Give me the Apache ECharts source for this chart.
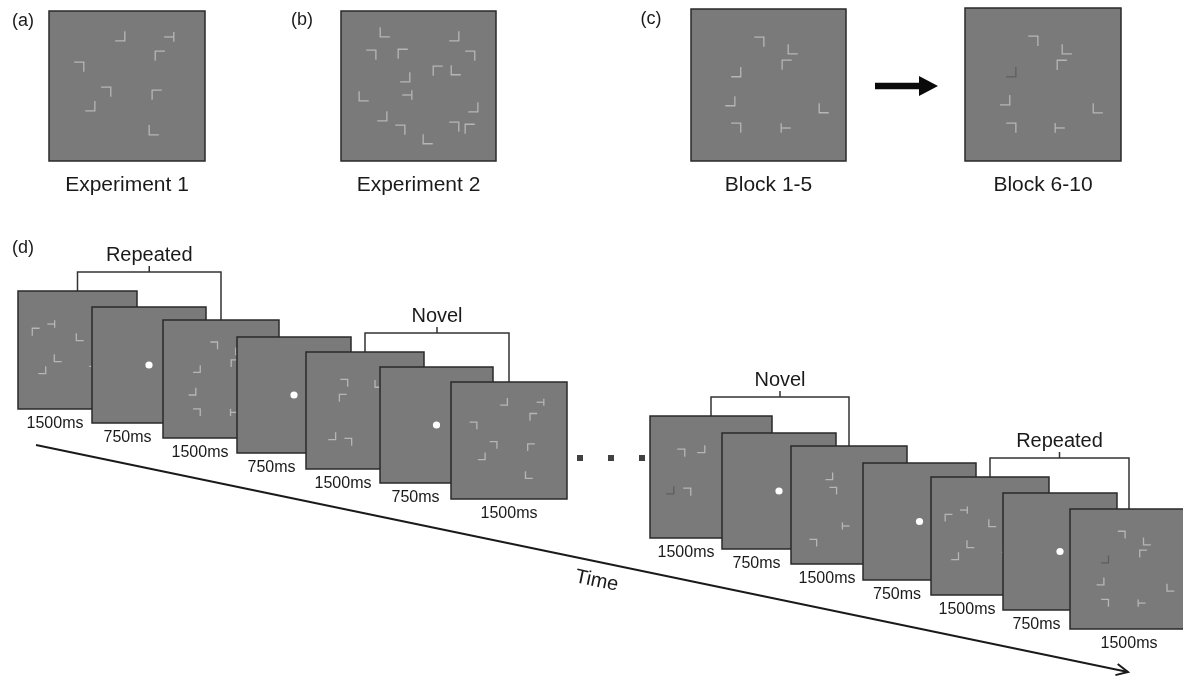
<!DOCTYPE html>
<html>
<head>
<meta charset="utf-8">
<script src="https://cdn.jsdelivr.net/npm/echarts/dist/echarts.min.js"></script>
<style>
  html, body { margin: 0; padding: 0; background: #ffffff; }
  #chart { width: 1183px; height: 680px; }
</style>
</head>
<body>
<div id="chart"></div>
<script>
// Page-sized frame used by both hidden axes (y grows downward)
const FRAME_W = 1183;
const FRAME_H = 680;

// Search-display layouts: [x fraction, y fraction, glyph, dimmed]
// glyphs: br ┘, tr ┐, tl ┌, bl └, tE ⊣ (T rotated, bar east), tW ⊢ (bar west)
const layoutExp1 = [
  [0.455, 0.167, 'br'], [0.769, 0.173, 'tE'], [0.712, 0.300, 'tl'], [0.192, 0.373, 'tr'],
  [0.365, 0.540, 'tr'], [0.263, 0.633, 'br'], [0.692, 0.560, 'tl'], [0.673, 0.793, 'bl']
];
const layoutExp2 = [
  [0.284, 0.140, 'bl'], [0.729, 0.167, 'br'], [0.194, 0.293, 'tr'], [0.400, 0.287, 'tl'],
  [0.832, 0.300, 'tr'], [0.626, 0.400, 'tl'], [0.742, 0.393, 'bl'], [0.413, 0.440, 'br'],
  [0.148, 0.567, 'bl'], [0.426, 0.560, 'tE'], [0.852, 0.640, 'br'], [0.265, 0.700, 'br'],
  [0.381, 0.793, 'tr'], [0.729, 0.773, 'tr'], [0.832, 0.787, 'tl'], [0.561, 0.853, 'bl']
];
const layoutBlock1to5 = [
  [0.439, 0.217, 'tr'], [0.658, 0.263, 'bl'], [0.619, 0.368, 'tl'], [0.290, 0.414, 'br'],
  [0.252, 0.605, 'br'], [0.858, 0.651, 'bl'], [0.290, 0.783, 'tr'], [0.613, 0.783, 'tW']
];
const layoutBlock6to10 = [
  [0.436, 0.216, 'tr'], [0.654, 0.268, 'bl'], [0.622, 0.373, 'tl'], [0.295, 0.418, 'br', 1],
  [0.256, 0.601, 'br'], [0.853, 0.654, 'bl'], [0.295, 0.784, 'tr'], [0.609, 0.784, 'tW']
];
const layoutSeqA = [
  [0.151, 0.347, 'tl'], [0.277, 0.280, 'tE'], [0.521, 0.390, 'bl'], [0.336, 0.568, 'bl'],
  [0.202, 0.669, 'br'], [0.630, 0.670, 'tr']
];
const layoutSeqE = [
  [0.322, 0.265, 'tr'], [0.616, 0.270, 'bl'], [0.314, 0.393, 'tl'], [0.220, 0.718, 'br'],
  [0.356, 0.769, 'tr']
];
const layoutSeqF = [
  [0.254, 0.303, 'tr'], [0.418, 0.270, 'br'], [0.164, 0.607, 'br', 1], [0.303, 0.623, 'tr']
];
const layoutSeqG = [
  [0.328, 0.254, 'br'], [0.362, 0.381, 'tr'], [0.474, 0.678, 'tW'], [0.190, 0.822, 'tr']
];
const LAYOUTS = {
  exp1: layoutExp1, exp2: layoutExp2, block1to5: layoutBlock1to5, block6to10: layoutBlock6to10,
  seqA: layoutSeqA, seqE: layoutSeqE, seqF: layoutSeqF, seqG: layoutSeqG, fixation: []
};

// Top row: example displays [left, top, width, height]
const exampleScreens = [[49, 11, 156, 150], [341, 11, 155, 150], [691, 9, 155, 152], [965, 8, 156, 153]];
const exampleLayouts = ['exp1', 'exp2', 'block1to5', 'block6to10'];
const exampleCaptions = ['Experiment 1', 'Experiment 2', 'Block 1-5', 'Block 6-10'];

// Panel (d): trial sequence [left, top, width, height]
const sequenceScreens = [
  [18, 291, 119, 118], [92, 307, 114, 116], [163, 320, 116, 118], [237, 337, 114, 116],
  [306, 352, 118, 117], [380, 367, 113, 116], [451, 382, 116, 117],
  [650, 416, 122, 122], [722, 433, 114, 116], [791, 446, 116, 118], [863, 463, 113, 117],
  [931, 477, 118, 118], [1003, 493, 114, 117], [1070, 509, 118, 120]
];
const sequenceLayouts = [
  'seqA', 'fixation', 'block1to5', 'fixation', 'seqE', 'fixation', 'exp1',
  'seqF', 'fixation', 'seqG', 'fixation', 'seqA', 'fixation', 'block6to10'
];
const sequenceGroups = [[0, 6], [7, 13]];
const stimulusMs = 1500;
const fixationMs = 750;

// Brackets over the sequence: [first screen, last screen]
const bracketSpans = [[0, 2], [4, 6], [7, 9], [11, 13]];
const bracketLabels = ['Repeated', 'Novel', 'Novel', 'Repeated'];

const panelTags = ['(a)', '(b)', '(c)', '(d)'];
const panelTagAnchors = [[23, 21], [302, 20], [651, 19], [23, 248]];

const timeAxisEnds = [[36, 445], [1128, 672]];
const timeLabel = 'Time';
const ellipsisDots = [[580, 458], [611, 458], [642, 458]];
const blockArrowEnds = [[875, 86], [938, 86]];

// ---- styles ----
const FONT = '"Liberation Sans", Arial, Helvetica, sans-serif';
const INK = '#1a1a1a';
const PANEL_FILL = '#7a7a7a';
const PANEL_EDGE = '#2a2a2a';
const GLYPH = '#b6b6b6';
const GLYPH_DIM = '#5e5e5e';

const allScreens = exampleScreens.concat(sequenceScreens);
const allLayouts = exampleLayouts.concat(sequenceLayouts);

function glyphPaths(type, cx, cy, hs) {
  switch (type) {
    case 'br': return [[[cx - hs, cy + hs], [cx + hs, cy + hs], [cx + hs, cy - hs]]];
    case 'tr': return [[[cx - hs, cy - hs], [cx + hs, cy - hs], [cx + hs, cy + hs]]];
    case 'tl': return [[[cx + hs, cy - hs], [cx - hs, cy - hs], [cx - hs, cy + hs]]];
    case 'bl': return [[[cx - hs, cy - hs], [cx - hs, cy + hs], [cx + hs, cy + hs]]];
    case 'tE': return [[[cx - hs, cy], [cx + hs, cy]], [[cx + hs, cy - hs], [cx + hs, cy + hs]]];
    case 'tW': return [[[cx - hs, cy - hs], [cx - hs, cy + hs]], [[cx - hs, cy], [cx + hs, cy]]];
  }
  return [];
}

function renderScreen(params, api) {
  const i = params.dataIndex;
  const l = api.value(0), t = api.value(1), w = api.value(2), h = api.value(3);
  const p0 = api.coord([l, t]);
  const p1 = api.coord([l + w, t + h]);
  const W = p1[0] - p0[0], H = p1[1] - p0[1];
  const children = [{
    type: 'rect',
    shape: { x: p0[0], y: p0[1], width: W, height: H },
    style: { fill: PANEL_FILL, stroke: PANEL_EDGE, lineWidth: 1.5 }
  }];
  const name = allLayouts[i];
  if (name === 'fixation') {
    children.push({
      type: 'circle',
      shape: { cx: p0[0] + W / 2, cy: p0[1] + H / 2, r: 3.6 },
      style: { fill: '#ffffff' }
    });
  }
  const hs = W * 0.031;
  LAYOUTS[name].forEach(function (g) {
    const cx = p0[0] + g[0] * W, cy = p0[1] + g[1] * H;
    glyphPaths(g[2], cx, cy, hs).forEach(function (pts) {
      children.push({
        type: 'polyline',
        shape: { points: pts },
        style: { stroke: g[3] ? GLYPH_DIM : GLYPH, lineWidth: 1.3, fill: null }
      });
    });
  });
  return { type: 'group', children: children };
}

// Bracket geometry from the screens it spans
const bracketData = bracketSpans.map(function (s) {
  const a = sequenceScreens[s[0]], b = sequenceScreens[s[1]];
  const xl = a[0] + a[2] / 2, xr = b[0] + b[2] / 2;
  return [xl, xr, a[1] - 19, a[1], b[1]];
});

function renderBracket(params, api) {
  const xl = api.value(0), xr = api.value(1), yl = api.value(2), ya = api.value(3), yb = api.value(4);
  const A = api.coord([xl, ya]), B = api.coord([xl, yl]), C = api.coord([xr, yl]), D = api.coord([xr, yb]);
  const mx = (B[0] + C[0]) / 2;
  const st = { stroke: '#333333', lineWidth: 1.5, fill: null };
  return {
    type: 'group',
    children: [
      { type: 'polyline', shape: { points: [A, B, C, D] }, style: st },
      { type: 'line', shape: { x1: mx, y1: B[1] - 6, x2: mx, y2: B[1] }, style: st }
    ]
  };
}

function renderTimeAxis(params, api) {
  const a = api.coord([api.value(0), api.value(1)]);
  const b = api.coord([api.value(2), api.value(3)]);
  const ang = Math.atan2(b[1] - a[1], b[0] - a[0]);
  const len = 13, spread = 0.45;
  const h1 = [b[0] - len * Math.cos(ang - spread), b[1] - len * Math.sin(ang - spread)];
  const h2 = [b[0] - len * Math.cos(ang + spread), b[1] - len * Math.sin(ang + spread)];
  const st = { stroke: INK, lineWidth: 2, fill: null };
  return {
    type: 'group',
    children: [
      { type: 'line', shape: { x1: a[0], y1: a[1], x2: b[0], y2: b[1] }, style: st },
      { type: 'polyline', shape: { points: [h1, b, h2] }, style: st }
    ]
  };
}

function renderBlockArrow(params, api) {
  const a = api.coord([api.value(0), api.value(1)]);
  const b = api.coord([api.value(2), api.value(3)]);
  const shaft = 3.2, head = 10, headLen = 19;
  const y = a[1], xs = b[0] - headLen;
  return {
    type: 'polygon',
    shape: { points: [[a[0], y - shaft], [xs, y - shaft], [xs, y - head], [b[0], y], [xs, y + head], [xs, y + shaft], [a[0], y + shaft]] },
    style: { fill: '#0a0a0a' }
  };
}

// Captions: positions, text, size, rotation
const captionPos = [], captionText = [], captionSize = [], captionRot = [];
function addCaption(pos, text, size, rot) {
  captionPos.push(pos); captionText.push(text); captionSize.push(size); captionRot.push(rot || 0);
}
panelTags.forEach(function (tag, i) { addCaption(panelTagAnchors[i], tag, 18); });
exampleScreens.forEach(function (s, i) {
  addCaption([s[0] + s[2] / 2, s[1] + s[3] + 24], exampleCaptions[i], 21);
});
sequenceGroups.forEach(function (g) {
  for (let i = g[0]; i <= g[1]; i++) {
    const s = sequenceScreens[i];
    const right = i < g[1] ? sequenceScreens[i + 1][0] : s[0] + s[2];
    const ms = sequenceLayouts[i] === 'fixation' ? fixationMs : stimulusMs;
    addCaption([(s[0] + right) / 2, s[1] + s[3] + 15], ms + 'ms', 16);
  }
});
bracketData.forEach(function (b, i) {
  addCaption([(b[0] + b[1]) / 2, b[2] - 17], bracketLabels[i], 20);
});
(function () {
  const a = timeAxisEnds[0], b = timeAxisEnds[1];
  const t = 0.517, off = 19;
  const dx = b[0] - a[0], dy = b[1] - a[1], L = Math.hypot(dx, dy);
  const px = a[0] + dx * t - dy / L * off, py = a[1] + dy * t + dx / L * off;
  addCaption([px, py], timeLabel, 20, -Math.atan2(dy, dx));
})();

function renderCaption(params, api) {
  const i = params.dataIndex;
  const p = api.coord([api.value(0), api.value(1)]);
  return {
    type: 'text',
    x: p[0], y: p[1],
    rotation: captionRot[i],
    style: {
      text: captionText[i], x: 0, y: 0,
      fill: INK, fontSize: captionSize[i], fontFamily: FONT,
      align: 'center', verticalAlign: 'middle',
      textAlign: 'center', textVerticalAlign: 'middle'
    }
  };
}

const chart = echarts.init(document.getElementById('chart'), null, { renderer: 'canvas' });
chart.setOption({
  animation: false,
  backgroundColor: '#ffffff',
  grid: { left: 0, right: 0, top: 0, bottom: 0 },
  xAxis: { type: 'value', min: 0, max: FRAME_W, show: false },
  yAxis: { type: 'value', min: 0, max: FRAME_H, inverse: true, show: false },
  series: [
    { type: 'custom', name: 'screens', renderItem: renderScreen, data: allScreens, clip: false, silent: true, z: 2 },
    { type: 'custom', name: 'brackets', renderItem: renderBracket, data: bracketData, silent: true, z: 1 },
    { type: 'custom', name: 'time', renderItem: renderTimeAxis, data: [timeAxisEnds[0].concat(timeAxisEnds[1])], silent: true, z: 1 },
    { type: 'custom', name: 'blockArrow', renderItem: renderBlockArrow, data: [blockArrowEnds[0].concat(blockArrowEnds[1])], silent: true, z: 3 },
    { type: 'scatter', name: 'ellipsis', data: ellipsisDots, symbol: 'rect', symbolSize: 6, itemStyle: { color: '#111111' }, silent: true, z: 3 },
    { type: 'custom', name: 'captions', renderItem: renderCaption, data: captionPos, silent: true, z: 4 }
  ]
});
</script>
</body>
</html>
